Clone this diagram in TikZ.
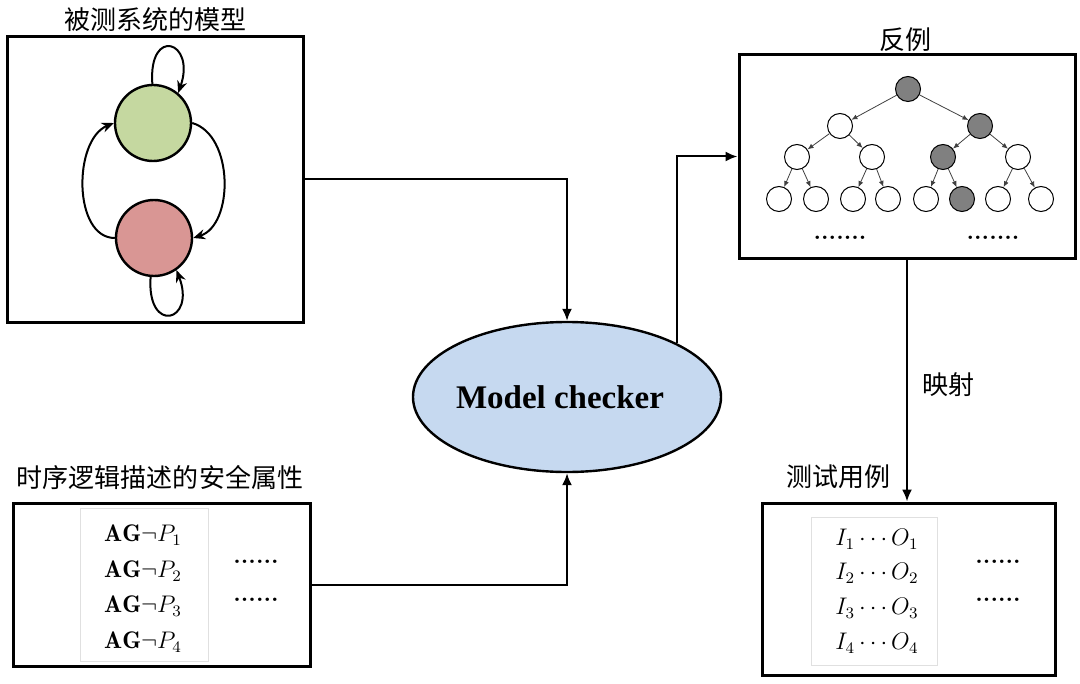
\documentclass[tikz,border=0pt]{standalone}
\usepackage{fontspec}
\newfontfamily\cjk{Noto Sans CJK SC}
\newfontfamily\timesfont{Liberation Serif}
\usetikzlibrary{shapes.geometric,arrows.meta}
\definecolor{stategreen}{RGB}{197,216,160}
\definecolor{statered}{RGB}{217,150,148}
\definecolor{checkerblue}{RGB}{198,217,240}
\definecolor{hitgrey}{RGB}{128,128,128}
\begin{document}
\begin{tikzpicture}[x=0.5pt,y=-0.5pt]
    \tikzstyle{every node}+=[inner sep=0pt]
    \tikzstyle{box}=[draw, line width=1.5pt]
    \tikzstyle{frame}=[draw=black!12, line width=0.4pt]
    \tikzstyle{title}=[font=\cjk\fontsize{13}{15}\selectfont]
    \tikzstyle{formula}=[font=\fontsize{12}{14}\selectfont]
    \tikzstyle{dots}=[font=\bfseries\fontsize{12}{14}\selectfont]
    \tikzstyle{state}=[draw, circle, line width=1.2pt, minimum size=38pt]
    \tikzstyle{tnode}=[draw, circle, line width=0.5pt, minimum size=12.5pt, fill=white]
    \tikzstyle{hit}=[tnode, fill=hitgrey]
    \tikzstyle{tedge}=[-{Latex[length=3pt,width=2.5pt]}, line width=0.4pt, black!75]
    \tikzstyle{trans}=[-{Stealth[length=6pt,width=5pt]}, line width=1pt]
    \tikzstyle{flow}=[line width=1pt]
    \tikzstyle{flowarrow}=[flow, -{Latex[length=6pt,width=5pt]}]
    \useasboundingbox (0,0) rectangle (1080,684);
    % titles
    \node[title] (modeltitle) at (155,20) {被测系统的模型};
    \node[title] (cextitle) at (905,40) {反例};
    \node[title] (proptitle) at (160,478) {时序逻辑描述的安全属性};
    \node[title] (tctitle) at (838,477) {测试用例};
    % boxes
    \node[box, minimum width=148pt, minimum height=142.5pt] (model) at (155,179.5) {};
    \node[box, minimum width=168pt, minimum height=101.5pt] (cex) at (907,156.5) {};
    \node[box, minimum width=148.5pt, minimum height=81.5pt] (props) at (161.5,584.5) {};
    \node[box, minimum width=146.5pt, minimum height=86pt] (tc) at (908.5,589) {};
    \node[draw, ellipse, line width=1.2pt, fill=checkerblue, minimum width=154pt, minimum height=75pt] (mc) at (567,397) {};
    \node (mctext) at (560,397) {\timesfont\bfseries\fontsize{16.5}{19}\selectfont Model checker};
    % model of the system
    \node[state, fill=stategreen] (g) at (153,123) {};
    \node[state, fill=statered] (r) at (154,238) {};
    \draw[trans] (g.91) .. controls +(-4,-58) and +(18,-52) .. (g.50);
    \draw[trans] (r.265) .. controls +(-4,58) and +(20,52) .. (r.305);
    \draw[trans] (r.west) .. controls (73,238) and (73,140) .. (g.west);
    \draw[trans] (g.east) .. controls (234,135) and (234,225) .. (r.east);
    % counterexample tree
    \node[hit] (n1) at (908,89) {};
    \node[tnode] (n2) at (840,126) {};
    \node[hit] (n3) at (980,126) {};
    \node[tnode] (n4) at (797,157) {};
    \node[tnode] (n5) at (872,157) {};
    \node[hit] (n6) at (943,157) {};
    \node[tnode] (n7) at (1018,157) {};
    \node[tnode] (n8) at (779,199) {};
    \node[tnode] (n9) at (816,199) {};
    \node[tnode] (n10) at (853,199) {};
    \node[tnode] (n11) at (888,199) {};
    \node[tnode] (n12) at (926,199) {};
    \node[hit] (n13) at (962,199) {};
    \node[tnode] (n14) at (998,199) {};
    \node[tnode] (n15) at (1041,199) {};
    \draw[tedge] (n1) -- (n2);
    \draw[tedge] (n1) -- (n3);
    \draw[tedge] (n2) -- (n4);
    \draw[tedge] (n2) -- (n5);
    \draw[tedge] (n3) -- (n6);
    \draw[tedge] (n3) -- (n7);
    \draw[tedge] (n4) -- (n8);
    \draw[tedge] (n4) -- (n9);
    \draw[tedge] (n5) -- (n10);
    \draw[tedge] (n5) -- (n11);
    \draw[tedge] (n6) -- (n12);
    \draw[tedge] (n6) -- (n13);
    \draw[tedge] (n7) -- (n14);
    \draw[tedge] (n7) -- (n15);
    \node[dots] (cexdots1) at (840,238) {.......};
    \node[dots] (cexdots2) at (993,238) {.......};
    % safety properties
    \node[frame, minimum width=64pt, minimum height=76.5pt] (propframe) at (144,584.5) {};
    \node[formula] (p1) at (143,535) {$\mathbf{AG}\neg P_1$};
    \node[formula] (p2) at (143,571) {$\mathbf{AG}\neg P_2$};
    \node[formula] (p3) at (143,606) {$\mathbf{AG}\neg P_3$};
    \node[formula] (p4) at (143,642) {$\mathbf{AG}\neg P_4$};
    \node[dots] (propdots1) at (256,562) {......};
    \node[dots] (propdots2) at (256,600) {......};
    % test cases
    \node[frame, minimum width=63pt, minimum height=74pt] (tcframe) at (874,591) {};
    \node[formula] (t1) at (877,539) {$I_1\cdots O_1$};
    \node[formula] (t2) at (877,573) {$I_2\cdots O_2$};
    \node[formula] (t3) at (877,608) {$I_3\cdots O_3$};
    \node[formula] (t4) at (877,643) {$I_4\cdots O_4$};
    \node[dots] (tcdots1) at (998,562) {......};
    \node[dots] (tcdots2) at (998,600) {......};
    % connectors
    \draw[flowarrow] (model.east) -| (mc.north);
    \draw[flowarrow] (props.east) -| (mc.south);
    \draw[flowarrow] (mc.north east) |- (cex.west);
    \draw[flowarrow] (cex.south) -- (cex.south |- tc.north);
    \node[title] (maplabel) at (948,385) {映射};
\end{tikzpicture}
\end{document}
